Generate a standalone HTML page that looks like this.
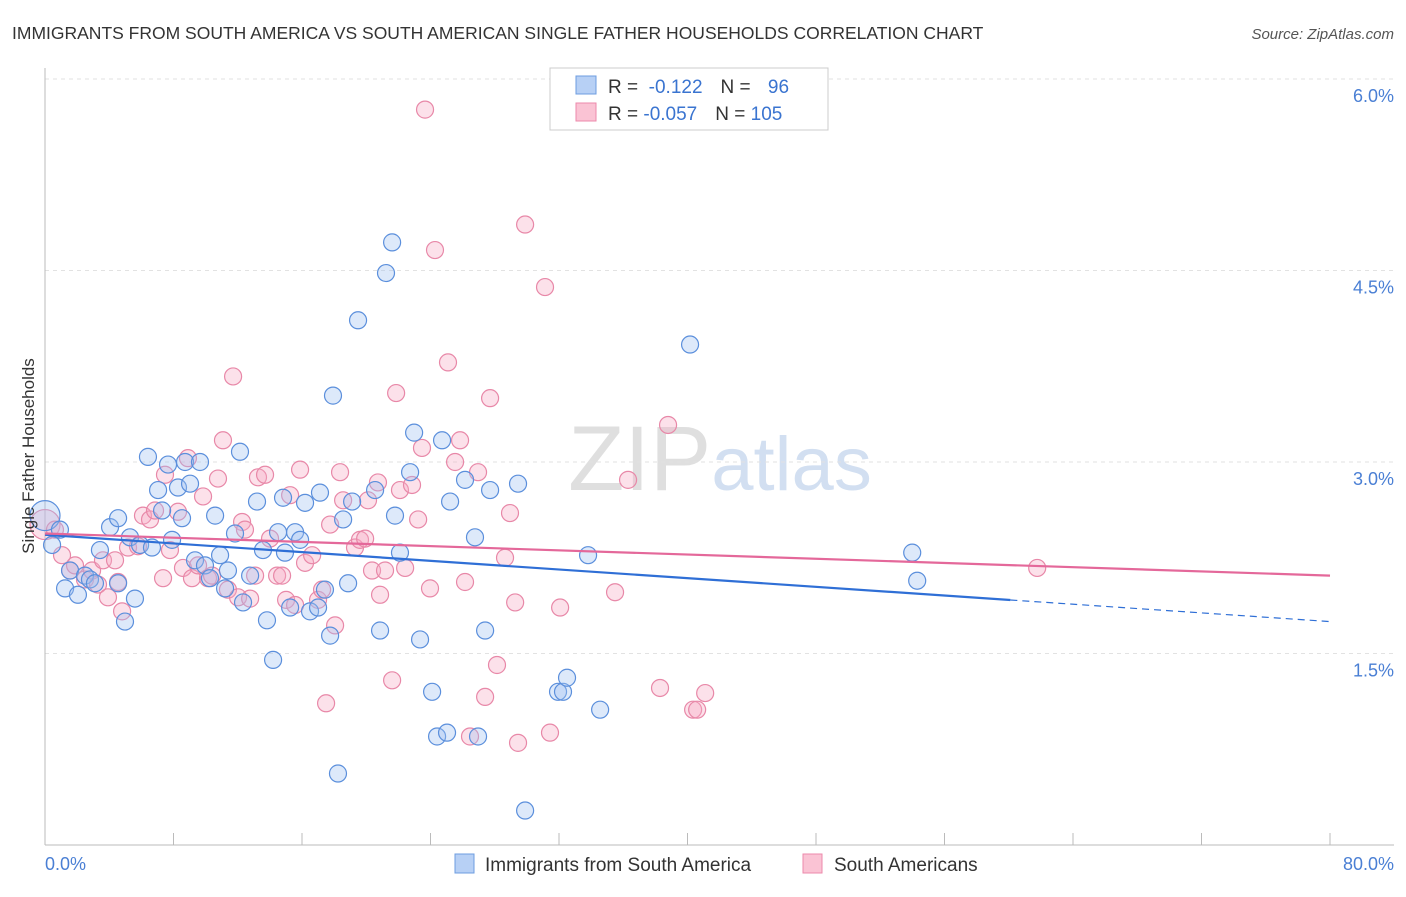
<!DOCTYPE html>
<html><head><meta charset="utf-8">
<style>
body{margin:0;background:#fff;font-family:"Liberation Sans",sans-serif;}
svg text{font-family:"Liberation Sans",sans-serif;}
</style></head>
<body>
<svg id="chart" width="1406" height="892" xmlns="http://www.w3.org/2000/svg">
<text x="12" y="39" font-size="17.5" fill="#333">IMMIGRANTS FROM SOUTH AMERICA VS SOUTH AMERICAN SINGLE FATHER HOUSEHOLDS CORRELATION CHART</text>
<text x="1394" y="39" font-size="15" fill="#555" text-anchor="end" font-style="italic">Source: ZipAtlas.com</text>
<text x="720" y="490" font-size="92" fill="#ddd" text-anchor="middle" font-family="Liberation Serif" opacity="0.8"><tspan fill="#d8d8d8">ZIP</tspan><tspan fill="#c8d8ee" font-family="Liberation Sans" font-size="76">atlas</tspan></text>
<g id="grid"></g>
<g id="axes"></g>
<g id="pts"></g>
<g id="trends"></g>
<text transform="translate(34,456) rotate(-90)" font-size="17" fill="#333" text-anchor="middle">Single Father Households</text>
<text x="45" y="870" font-size="18" fill="#4a7fd4">0.0%</text>
<text x="1394" y="870" font-size="18" fill="#4a7fd4" text-anchor="end">80.0%</text>
<g>
<rect x="550" y="68" width="278" height="62" fill="#fff" stroke="#ccc"/>
<rect x="576" y="76" width="20" height="18" fill="#b7d0f5" stroke="#6d9de0"/>
<rect x="576" y="103" width="20" height="18" fill="#fac3d4" stroke="#ec8aab"/>
<text x="608" y="93" font-size="19" fill="#333">R = <tspan fill="#3a74d0">&#160;-0.122</tspan><tspan dx="18" fill="#333">N = </tspan><tspan dx="12" fill="#3a74d0">96</tspan></text>
<text x="608" y="120" font-size="19" fill="#333">R = <tspan fill="#3a74d0">-0.057</tspan><tspan dx="18" fill="#333">N = </tspan><tspan fill="#3a74d0">105</tspan></text>
</g>
<g>
<rect x="455" y="854" width="19" height="19" fill="#b7d0f5" stroke="#6d9de0"/>
<text x="485" y="871" font-size="19" fill="#333">Immigrants from South America</text>
<rect x="803" y="854" width="19" height="19" fill="#fac3d4" stroke="#ec8aab"/>
<text x="834" y="871" font-size="19" fill="#333">South Americans</text>
</g>
</svg>
<script>
const blueX=[0,0.44,0.93,1.25,1.56,2.05,2.49,2.80,3.11,3.42,4.05,4.55,4.55,4.98,5.29,5.60,5.92,6.41,6.66,7.04,7.29,7.66,7.91,8.28,8.53,8.72,9.03,9.34,9.65,9.96,10.27,10.59,10.90,11.21,11.39,11.83,12.14,12.33,12.77,13.20,13.57,13.82,14.20,14.51,14.82,14.94,15.26,15.57,15.88,16.19,16.50,17.00,17.12,17.43,17.75,17.93,18.24,18.56,18.87,19.12,19.49,20.55,20.86,21.23,21.61,21.79,22.10,22.73,22.98,23.35,24.10,24.41,24.72,25.03,25.22,26.15,26.77,26.96,27.40,27.71,29.45,29.89,31.94,32.25,32.50,33.81,34.56,40.16,53.99,54.30];
const blueY=[2.58,2.35,2.47,2.01,2.15,1.96,2.11,2.08,2.05,2.31,2.49,2.56,2.05,1.75,2.41,1.93,2.35,3.04,2.33,2.78,2.62,2.98,2.39,2.80,2.56,3.00,2.83,2.23,3.00,2.19,2.09,2.58,2.27,2.01,2.15,2.44,3.08,1.90,2.11,2.69,2.31,1.76,1.45,2.45,2.72,2.29,1.86,2.45,2.39,2.68,1.83,1.86,2.76,2.00,1.64,3.52,0.56,2.55,2.05,2.69,4.11,2.78,1.68,4.48,4.72,2.58,2.29,2.92,3.23,1.61,1.20,0.85,3.17,0.88,2.69,2.86,2.41,0.85,1.68,2.78,2.83,0.27,1.20,1.20,1.31,2.27,1.06,3.92,2.29,2.07];
const pinkX=[0,0.62,1.06,1.56,1.87,2.49,2.93,3.30,3.61,3.92,4.36,4.55,4.80,5.17,5.79,6.10,6.54,6.85,7.35,7.47,7.78,8.28,8.59,8.90,9.15,9.53,9.84,10.15,10.40,10.77,11.08,11.39,11.71,12.02,12.27,12.45,12.77,13.08,13.26,13.70,14.01,14.45,14.76,15.01,15.26,15.57,15.88,16.19,16.63,17.00,17.25,17.50,17.75,18.06,18.37,18.56,19.30,19.61,19.93,20.11,20.36,20.73,20.86,21.17,21.61,21.86,22.10,22.42,22.85,23.23,23.47,23.66,23.97,24.28,25.09,25.53,25.84,26.15,26.46,26.96,27.40,27.71,28.14,28.64,28.95,29.27,29.45,29.89,31.13,31.44,32.07,35.49,36.30,38.29,38.79,40.35,40.60,41.10,61.77];
const pinkY=[2.51,2.47,2.27,2.15,2.19,2.08,2.15,2.04,2.23,1.94,2.23,2.06,1.83,2.33,2.34,2.58,2.55,2.62,2.09,2.90,2.31,2.61,2.17,3.03,2.09,2.19,2.73,2.09,2.11,2.87,3.17,2.00,3.67,1.94,2.53,2.47,1.93,2.11,2.88,2.90,2.40,2.11,2.11,1.92,2.74,1.88,2.94,2.21,2.27,1.92,2.00,1.11,2.51,1.72,2.92,2.70,2.33,2.39,2.40,2.70,2.15,2.84,1.96,2.15,1.29,3.54,2.78,2.17,2.82,2.55,3.11,5.76,2.01,4.66,3.78,3.00,3.17,2.06,0.85,2.92,1.16,3.50,1.41,2.25,2.60,1.90,0.80,4.86,4.37,0.88,1.86,1.98,2.86,1.23,3.29,1.06,1.06,1.19,2.17];
const yTicks=[1.5,3.0,4.5,6.0];
const yTickLabels=["1.5%","3.0%","4.5%","6.0%"];
const blueTrend=[2.43,1.75];
const pinkTrend=[2.44,2.11];
const blueSolidEnd=60.1;

const NS="http://www.w3.org/2000/svg";
const X0=45,X1=1330,Y0=845,PY=127.67;
function sx(v){return X0+(v/80)*(X1-X0);}
function sy(v){return Y0-v*PY;}
function mk(tag,attrs,parent){const e=document.createElementNS(NS,tag);for(const k in attrs)e.setAttribute(k,attrs[k]);parent.appendChild(e);return e;}
const grid=document.getElementById('grid'),axes=document.getElementById('axes'),pts=document.getElementById('pts'),tr=document.getElementById('trends');
yTicks.forEach((t,i)=>{
  const l=mk('line',{x1:X0,x2:1394,y1:sy(t),y2:sy(t),stroke:'#e2e2e2','stroke-dasharray':'4,4'},grid);
  
  
  const tx=mk('text',{x:1394,y:sy(t)+23,'font-size':18,fill:'#4a7fd4','text-anchor':'end'},grid);
  tx.textContent=yTickLabels[i];
  
  
});
const ya=mk('line',{x1:X0,x2:X0,y1:68,y2:Y0,stroke:'#bbb'},axes);


const xa=mk('line',{x1:X0,x2:1394,y1:Y0,y2:Y0,stroke:'#bbb'},axes);


for(let v=0;v<=80;v+=8){
  const t=mk('line',{x1:sx(v),x2:sx(v),y1:Y0,y2:Y0-12,stroke:'#bbb'},axes);
  
  
}
function dots(xs,ys,fill,stroke,name){
  xs.forEach((x,i)=>{
    const r=(x===0)?15:8.5;
    const c=mk('circle',{cx:sx(x),cy:sy(ys[i]),r:r,fill:fill,'fill-opacity':0.35,stroke:stroke,'stroke-width':1.2},pts);
    
    
  });
}
dots(pinkX,pinkY,'#f7a8c2','#e888a8','point-south-americans');
dots(blueX,blueY,'#9dbff0','#5b8fdc','point-immigrants');
function val(a,x){return a[0]+(a[1]-a[0])*x/80;}
let l1=mk('line',{x1:sx(0),y1:sy(val(blueTrend,0)),x2:sx(blueSolidEnd),y2:sy(val(blueTrend,blueSolidEnd)),stroke:'#2f6fd6','stroke-width':2.2},tr);


let l2=mk('line',{x1:sx(blueSolidEnd),y1:sy(val(blueTrend,blueSolidEnd)),x2:sx(80),y2:sy(val(blueTrend,80)),stroke:'#2f6fd6','stroke-width':1.2,'stroke-dasharray':'7,5'},tr);


let l3=mk('line',{x1:sx(0),y1:sy(val(pinkTrend,0)),x2:sx(80),y2:sy(val(pinkTrend,80)),stroke:'#e4689a','stroke-width':2.2},tr);


</script>
</body></html>
